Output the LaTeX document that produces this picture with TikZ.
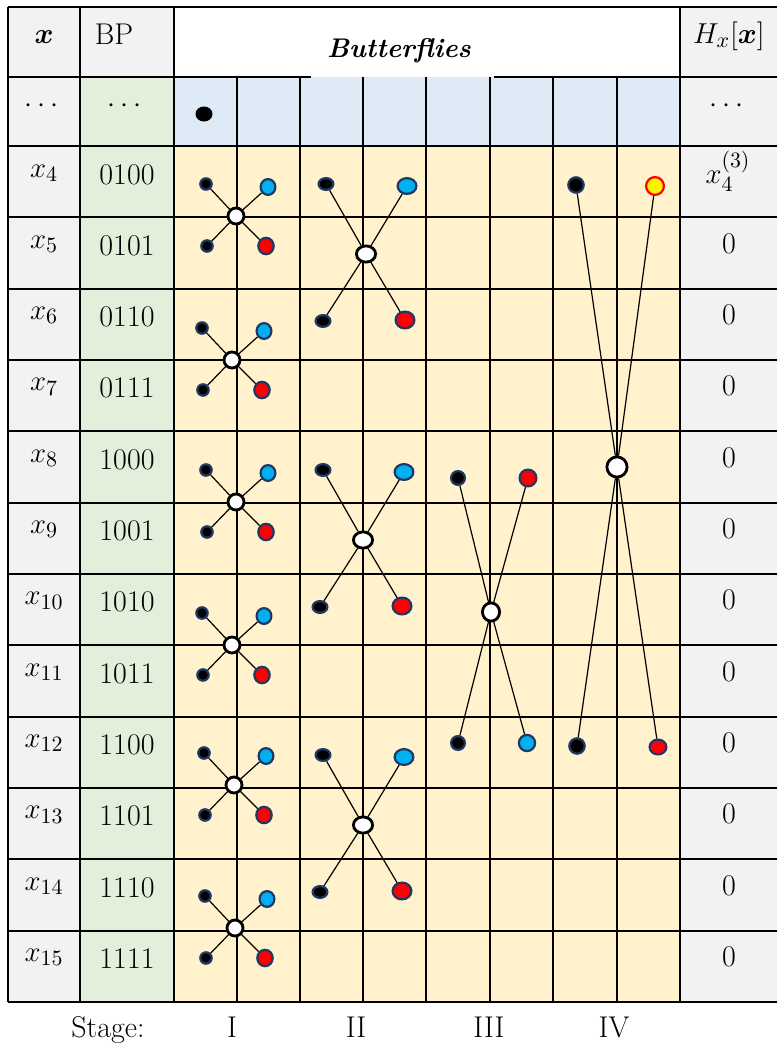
\documentclass[tikz,border=0pt]{standalone}
\usepackage{fontspec}
\usepackage{amsmath}
\usepackage{xcolor}
\usetikzlibrary{shapes,positioning,calc}

\definecolor{cellgray}{HTML}{F2F2F2}
\definecolor{cellgreen}{HTML}{E2EFDA}
\definecolor{cellblue}{HTML}{DEEBF7}
\definecolor{cellbeige}{HTML}{FFF2CC}
\definecolor{dotrim}{HTML}{1F3864}
\definecolor{dotblue}{HTML}{00B0F0}

\begin{document}
\begin{tikzpicture}[x=0.5pt,y=-0.5pt,
  txt/.style={font=\fontsize{15}{18}\selectfont,inner sep=0pt,anchor=base},
  grid/.style={line width=1pt},
  ring/.style={ellipse,inner sep=0pt,line width=1.1pt,draw=dotrim},
  bk/.style={ring,fill=black},
  bl/.style={ring,fill=dotblue},
  rd/.style={ring,fill=red},
  yl/.style={ring,draw=red,fill=yellow},
  hub/.style={ellipse,inner sep=0pt,draw=black,line width=1.4pt,fill=white},
  sz/.style 2 args={minimum width=#1,minimum height=#2},
  link/.style={line width=0.6pt}]
\useasboundingbox (0,0) rectangle (777,1050);

% cell colours
\fill[cellgray] (8,7) rectangle (80,1002);
\fill[cellgray] (80,7) rectangle (174,77);
\fill[cellgreen] (80,77) rectangle (174,1002);
\fill[cellblue] (174,77) rectangle (680,146);
\fill[cellbeige] (174,146) rectangle (680,1002);
\fill[cellgray] (680,7) rectangle (777,1002);

% grid
\draw[grid] (8,7) -- (777,7);
\foreach \gx in {8,80,174,680} \draw[grid] (\gx,7) -- (\gx,1002);
\foreach \gx in {237,300,363,426,490,553,617} \draw[grid] (\gx,77) -- (\gx,1002);
\draw[grid] (8,77) -- (311,77);
\draw[grid] (494,77) -- (777,77);
\foreach \k in {0,...,12} \draw[grid] (8,{146+71.33*\k}) -- (777,{146+71.33*\k});

% header
\node[txt] (hx) at (44,43) {$\boldsymbol{x}$};
\node[txt] (hbp) at (114,44) {BP};
\node[txt,font=\fontsize{13.5}{16}\selectfont\bfseries\itshape] (hbf) at (399,57) {Butterflies};
\node[txt] (hh) at (729,43) {$H_x[\boldsymbol{x}]$};

\node[txt] (dx) at (44,112) {$\cdots$};
\node[txt] (dbp) at (127,112) {$\cdots$};
\node[txt] (dh) at (729,112) {$\cdots$};
\node[fill=black,ellipse,inner sep=0pt,sz={8.5pt}{7.5pt}] (d0) at (204,114) {};

% rows
\foreach \k/\b in {4/0100,5/0101,6/0110,7/0111,8/1000,9/1001,10/1010,11/1011,12/1100,13/1101,14/1110,15/1111}{
  \node[txt] (x\k) at (44,{146+71.33*(\k-4)+31}) {$x_{\k}$};
  \node[txt] (bp\k) at (127,{146+71.33*(\k-4)+38}) {\b};
}
\node[txt] (h4) at (728,183) {$x_4^{(3)}$};
\foreach \k in {5,...,15}
  \node[txt] (h\k) at (729,{146+71.33*(\k-4)+36}) {0};

% stage I
\foreach \cx/\cy [count=\j] in {236/216,232/360,236/502,232/645,234/785,235/928}{
  \node[hub,sz={8pt}{8pt}] (hA\j) at (\cx,\cy) {};
  \node[bk,sz={5.7pt}{5.7pt}] (ulA\j) at ($(hA\j)+(-30,-32)$) {};
  \node[bl,sz={7.4pt}{7.9pt}] (urA\j) at ($(hA\j)+(32,-29)$) {};
  \node[bk,sz={5.7pt}{5.7pt}] (llA\j) at ($(hA\j)+(-29,30)$) {};
  \node[rd,sz={7.7pt}{8.2pt}] (lrA\j) at ($(hA\j)+(30,30)$) {};
  \draw[link] (ulA\j) -- (hA\j) -- (lrA\j);
  \draw[link] (llA\j) -- (hA\j) -- (urA\j);
}

% stage II
\foreach \cx/\cy [count=\j] in {366/254,363/540,363/825}{
  \node[hub,sz={9.6pt}{8.1pt}] (hB\j) at (\cx,\cy) {};
  \node[bk,sz={7.4pt}{5.9pt}] (ulB\j) at ($(hB\j)+(-40,-70)$) {};
  \node[bl,sz={9.4pt}{7.9pt}] (urB\j) at ($(hB\j)+(41,-68)$) {};
  \node[bk,sz={7.4pt}{5.9pt}] (llB\j) at ($(hB\j)+(-43,67)$) {};
  \node[rd,sz={9.4pt}{8.4pt}] (lrB\j) at ($(hB\j)+(39,66)$) {};
  \draw[link] (ulB\j) -- (hB\j) -- (lrB\j);
  \draw[link] (llB\j) -- (hB\j) -- (urB\j);
}

% stage III
\node[hub,sz={8.6pt}{9.1pt}] (hC) at (491,612) {};
\node[bk,sz={6.9pt}{6.9pt}] (ulC) at (458,478) {};
\node[rd,sz={8.4pt}{8.4pt}] (urC) at (528,478) {};
\node[bk,sz={6.9pt}{6.9pt}] (llC) at (458,743) {};
\node[bl,sz={8.1pt}{8.1pt}] (lrC) at (527,743) {};
\draw[link] (ulC) -- (hC) -- (lrC);
\draw[link] (llC) -- (hC) -- (urC);

% stage IV
\node[hub,sz={10.1pt}{10.1pt}] (hD) at (617,467) {};
\node[bk,sz={7.7pt}{7.7pt}] (ulD) at (576,185) {};
\node[yl,sz={8.9pt}{8.9pt}] (urD) at (655,186) {};
\node[bk,sz={7.7pt}{7.7pt}] (llD) at (577,746) {};
\node[rd,sz={8.4pt}{7.4pt}] (lrD) at (658,747) {};
\draw[link] (ulD) -- (hD) -- (lrD);
\draw[link] (llD) -- (hD) -- (urD);

% stages
\node[txt] (st) at (108,1037) {Stage:};
\node[txt] (s1) at (232,1037) {I};
\node[txt] (s2) at (356,1037) {II};
\node[txt] (s3) at (489,1037) {III};
\node[txt] (s4) at (614,1037) {IV};
\end{tikzpicture}
\end{document}
